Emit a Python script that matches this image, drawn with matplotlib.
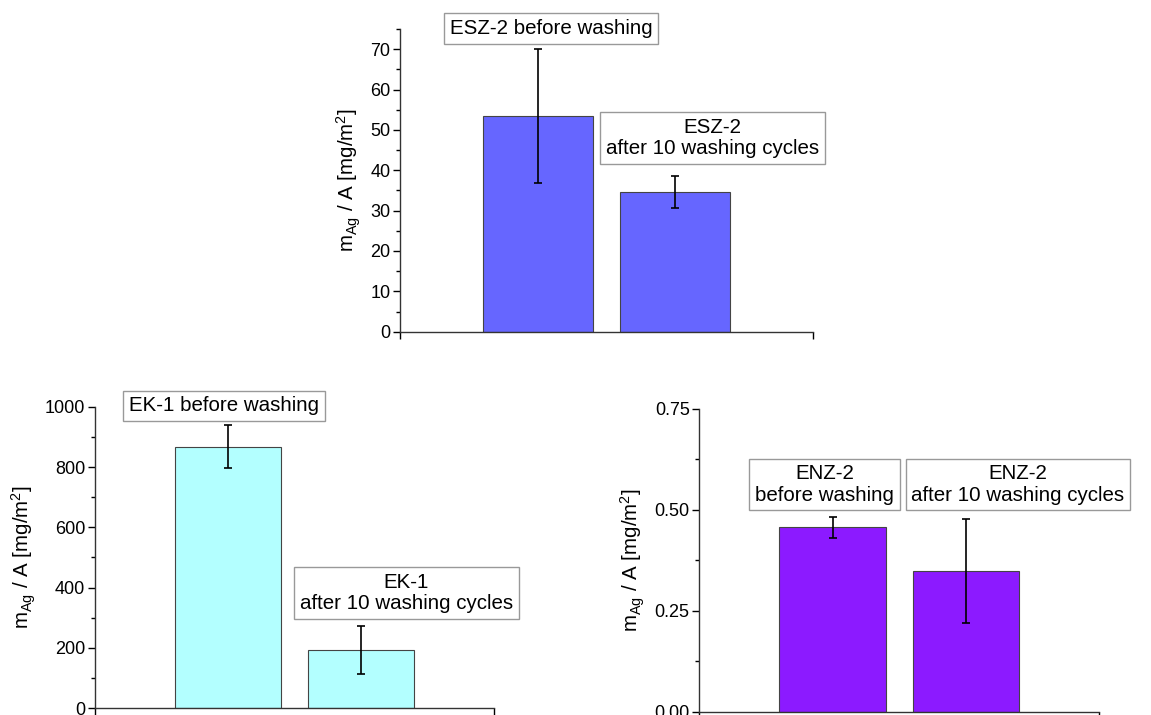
import matplotlib
matplotlib.use('Agg')
import matplotlib.pyplot as plt
from matplotlib.ticker import MultipleLocator, FormatStrFormatter

plt.rcParams['font.family'] = ['Liberation Sans', 'DejaVu Sans']
plt.rcParams['mathtext.fontset'] = 'custom'
plt.rcParams['mathtext.rm'] = 'Liberation Sans'
plt.rcParams['mathtext.it'] = 'Liberation Sans:italic'

# %% Data
esz_labels = ['ESZ-2 before washing', 'ESZ-2\nafter 10 washing cycles']
esz_values = [53.5, 34.7]
esz_errors = [16.6, 4.0]

ek_labels = ['EK-1 before washing', 'EK-1\nafter 10 washing cycles']
ek_values = [868, 194]
ek_errors = [71, 79]

enz_labels = ['ENZ-2\nbefore washing', 'ENZ-2\nafter 10 washing cycles']
enz_values = [0.457, 0.349]
enz_errors = [0.026, 0.128]

ylabel = r'm$_\mathrm{Ag}$ / A [mg/m$^2$]'

# %% Figure
fig = plt.figure(figsize=(11.51, 7.15), dpi=100)


def panel(rect, values, errors, labels, color, ylim, major, minor, fmt, label_pos):
    ax = fig.add_axes(rect)
    x = [1, 2]
    ax.bar(x, values, width=0.8, color=color, edgecolor='#444444', linewidth=0.8)
    ax.errorbar(x, values, yerr=errors, fmt='none', ecolor='black',
                elinewidth=1.2, capsize=3, capthick=1.2)
    ax.set_xlim(0, 3)
    ax.set_ylim(*ylim)
    ax.set_xticks([0, 3])
    ax.set_xticklabels([])
    ax.yaxis.set_major_locator(MultipleLocator(major))
    ax.yaxis.set_minor_locator(MultipleLocator(minor))
    ax.yaxis.set_major_formatter(FormatStrFormatter(fmt))
    ax.tick_params(axis='y', which='major', length=5, width=1, labelsize=13, pad=2)
    ax.tick_params(axis='y', which='minor', length=3, width=1)
    ax.tick_params(axis='x', which='major', length=5, width=1)
    for s in ['top', 'right']:
        ax.spines[s].set_visible(False)
    for s in ['left', 'bottom']:
        ax.spines[s].set_color('#333333')
        ax.spines[s].set_linewidth(1)
    ax.set_ylabel(ylabel, fontsize=14.8, labelpad=5)
    for lab, (lx, ly) in zip(labels, label_pos):
        ax.text(lx, ly, lab, ha='center', va='center', fontsize=14.8,
                linespacing=1.15, clip_on=False,
                bbox=dict(boxstyle='square,pad=0.28', facecolor='white',
                          edgecolor='#999999', linewidth=1))
    return ax


panel([0.3475, 0.5361, 0.3588, 0.4233], esz_values, esz_errors, esz_labels,
      '#6666FF', (0, 75), 10, 5, '%d', [(1.10, 75.1), (2.27, 48.0)])
panel([0.0825, 0.0094, 0.3467, 0.4218], ek_values, ek_errors, ek_labels,
      '#B3FFFF', (0, 1000), 200, 100, '%d', [(0.97, 1003), (2.34, 381)])
panel([0.6076, 0.0046, 0.3475, 0.4234], enz_values, enz_errors, enz_labels,
      '#8C1AFF', (0, 0.75), 0.25, 0.125, '%.2f', [(0.94, 0.563), (2.39, 0.563)])

plt.savefig('out.png', dpi=100)
